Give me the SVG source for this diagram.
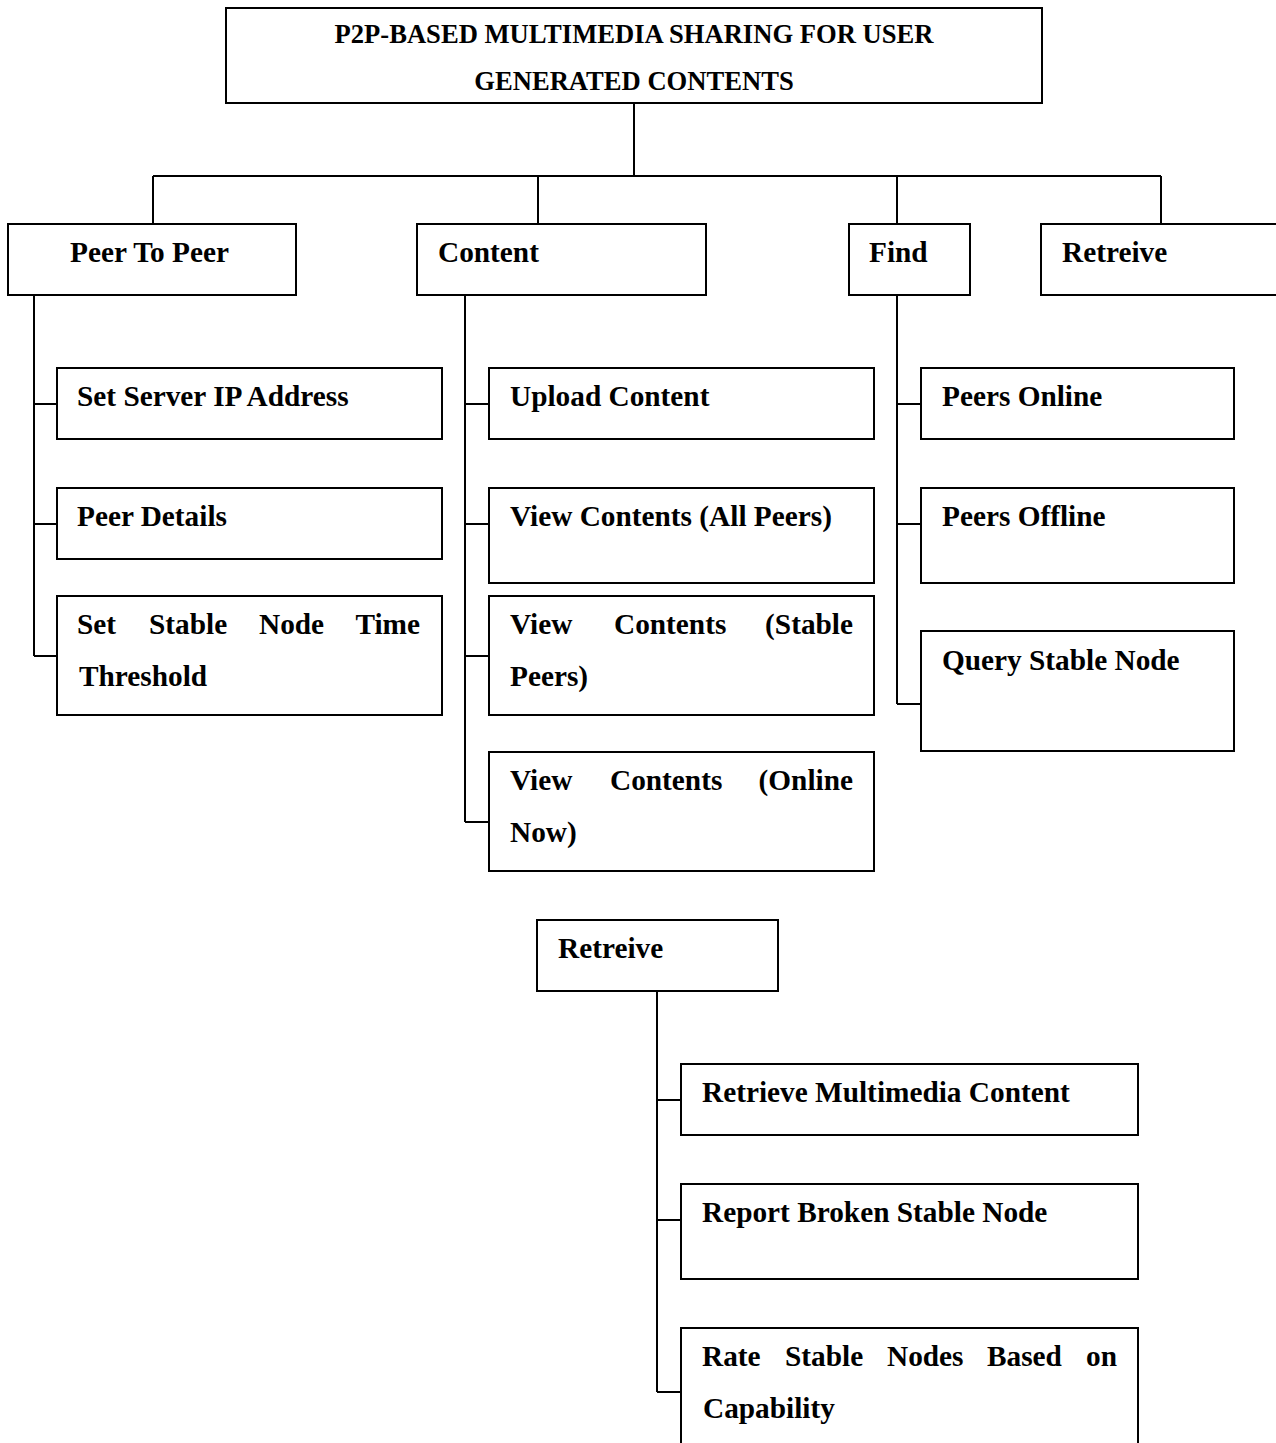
<svg xmlns="http://www.w3.org/2000/svg" width="1276" height="1443" viewBox="0 0 1276 1443">
<style>
.n rect{fill:#fff;stroke:#000;stroke-width:2}
.c path{stroke:#000;stroke-width:2;fill:none}
text{font-family:"Liberation Serif","Times New Roman",serif;font-weight:bold;fill:#000;font-size:29.3px}
.t{font-size:26.6px}
.e{text-anchor:end}
</style>
<rect x="0" y="0" width="1276" height="1443" fill="#fff"/>
<g class="c" id="connectors">
<path d="M634 103V176M153 176H1161M153 176V224M538 176V224M897 176V224M1161 176V224"/>
<path d="M34 295V656M34 404H57M34 524H57M34 656H57"/>
<path d="M465 295V822M465 404H489M465 524H489M465 656H489M465 822H489"/>
<path d="M897 295V704M897 404H921M897 524H921M897 704H921"/>
<path d="M657 991V1392M657 1100H681M657 1220H681M657 1392H681"/>
</g>
<g class="n">
<g id="root"><rect x="226" y="8" width="816" height="95"/>
<text class="t" x="634" y="43" text-anchor="middle">P2P-BASED MULTIMEDIA SHARING FOR USER</text>
<text class="t" x="634" y="90" text-anchor="middle">GENERATED CONTENTS</text></g>
<g id="peer"><rect x="8" y="224" width="288" height="71"/><text x="70" y="262">Peer To Peer</text></g>
<g id="content"><rect x="417" y="224" width="289" height="71"/><text x="438" y="262">Content</text></g>
<g id="find"><rect x="849" y="224" width="121" height="71"/><text x="869" y="262">Find</text></g>
<g id="retreive1"><rect x="1041" y="224" width="250" height="71"/><text x="1062" y="262">Retreive</text></g>
<g id="p1"><rect x="57" y="368" width="385" height="71"/><text x="77" y="406">Set Server IP Address</text></g>
<g id="p2"><rect x="57" y="488" width="385" height="71"/><text x="77" y="526">Peer Details</text></g>
<g id="p3"><rect x="57" y="596" width="385" height="119"/><text y="634"><tspan x="77">Set</tspan><tspan x="149">Stable</tspan><tspan x="259">Node</tspan><tspan class="e" x="420">Time</tspan></text><text x="79" y="686">Threshold</text></g>
<g id="c1"><rect x="489" y="368" width="385" height="71"/><text x="510" y="406">Upload Content</text></g>
<g id="c2"><rect x="489" y="488" width="385" height="95"/><text x="510" y="526">View Contents (All Peers)</text></g>
<g id="c3"><rect x="489" y="596" width="385" height="119"/><text y="634"><tspan x="510">View</tspan><tspan x="614">Contents</tspan><tspan class="e" x="853">(Stable</tspan></text><text x="510" y="686">Peers)</text></g>
<g id="c4"><rect x="489" y="752" width="385" height="119"/><text y="790"><tspan x="510">View</tspan><tspan x="610">Contents</tspan><tspan class="e" x="853">(Online</tspan></text><text x="510" y="842">Now)</text></g>
<g id="f1"><rect x="921" y="368" width="313" height="71"/><text x="942" y="406">Peers Online</text></g>
<g id="f2"><rect x="921" y="488" width="313" height="95"/><text x="942" y="526">Peers Offline</text></g>
<g id="f3"><rect x="921" y="631" width="313" height="120"/><text x="942" y="670">Query Stable Node</text></g>
<g id="retreive2"><rect x="537" y="920" width="241" height="71"/><text x="558" y="958">Retreive</text></g>
<g id="r1"><rect x="681" y="1064" width="457" height="71"/><text x="702" y="1102">Retrieve Multimedia Content</text></g>
<g id="r2"><rect x="681" y="1184" width="457" height="95"/><text x="702" y="1222">Report Broken Stable Node</text></g>
<g id="r3"><rect x="681" y="1328" width="457" height="200"/><text y="1366"><tspan x="702">Rate</tspan><tspan x="785">Stable</tspan><tspan x="887">Nodes</tspan><tspan x="987">Based</tspan><tspan class="e" x="1117">on</tspan></text><text x="703" y="1418">Capability</text></g>
</g>
</svg>
